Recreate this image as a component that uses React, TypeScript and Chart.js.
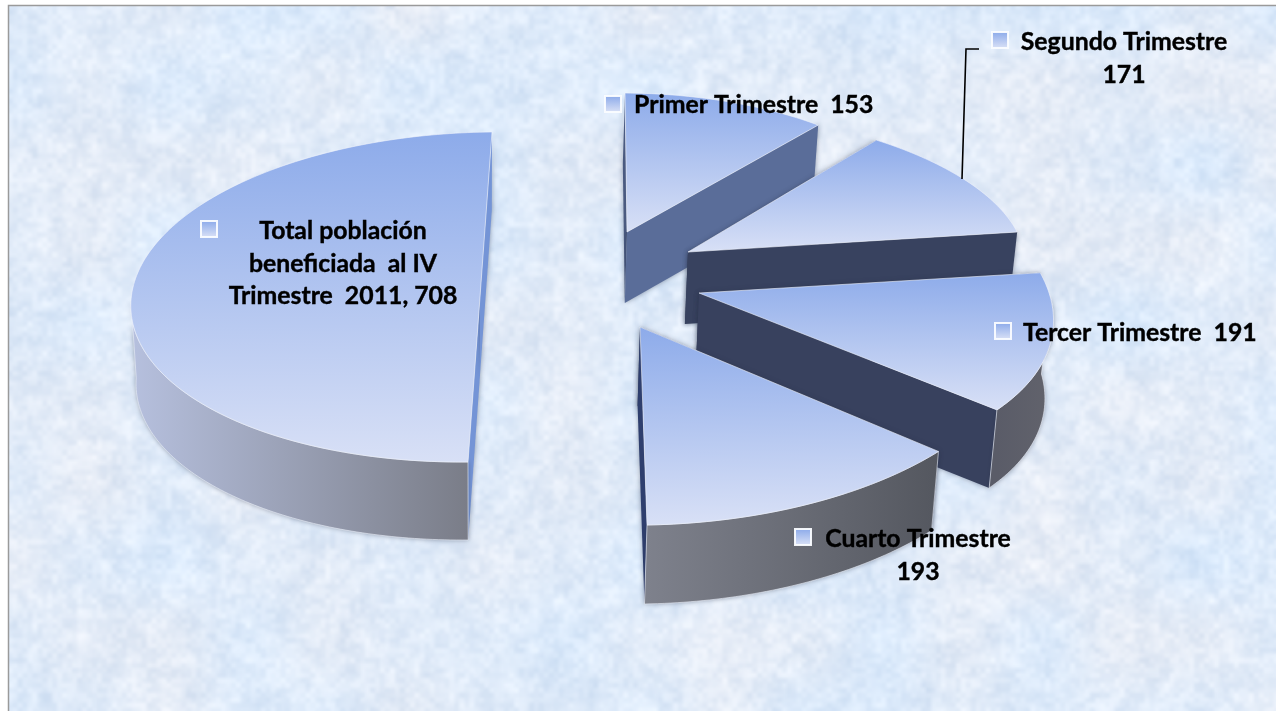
import React, { useEffect, useRef } from "react";
import { Chart, registerables } from "chart.js";

Chart.register(...registerables);

// ---- data ----
const categories = [
  "Primer Trimestre",
  "Segundo Trimestre",
  "Tercer Trimestre",
  "Cuarto Trimestre",
  "Total población beneficiada al IV Trimestre 2011",
];
const values = [153, 171, 191, 193, 708];
const labelLines = [
  ["Primer Trimestre  153"],
  ["Segundo Trimestre", "171"],
  ["Tercer Trimestre  191"],
  ["Cuarto Trimestre", "193"],
  ["Total población", "beneficiada  al IV", "Trimestre  2011, 708"],
];

// ---- presentation: a perspective view of each exploded wedge ----
const W = 1276;
const H = 711;
const FONT = "bold 24.8px Lato, Carlito, sans-serif";
const BOTTOM_SHRINK = 0.015;
const VANISH_X = 480;
const views = [
  { ox: 627, oy: 232, ax: 307, ay: 2, bx: 2, by: 139, depth: 71 },
  { ox: 688, oy: 252, ax: 336, ay: -1, bx: 29, by: 143, depth: 72 },
  { ox: 699, oy: 293, ax: 351, ay: 3, bx: 50, by: 175, depth: 78 },
  { ox: 640, oy: 327, ax: 389, ay: -7, bx: 7, by: 198, depth: 79 },
  { ox: 480, oy: 297, ax: 349, ay: -3, bx: -12, by: 165, depth: 78 },
];
const wallColors = [
  { start: "#4a5a80", end: "#5a6d99", arcA: "#6a6f82", arcB: "#6a6f82" },
  { start: "#38425f", end: "#38425f", arcA: "#5a5c68", arcB: "#5a5c68" },
  { start: "#38425f", end: "#38415e", arcA: "#5a5c68", arcB: "#62636c" },
  { start: "#38425f", end: "#2f3f6e", arcA: "#7e818c", arcB: "#54575f" },
  { start: "#7494d6", end: "#7494d6", arcA: "#b6c0de", arcB: "#7a7d88" },
];
const labelBoxes = [
  { x: 634, y: 113, align: "left", mx: 605, my: 96 },
  { x: 1124, y: 50, align: "center", mx: 992, my: 32 },
  { x: 1023, y: 341, align: "left", mx: 995, my: 323 },
  { x: 918, y: 547, align: "center", mx: 795, my: 529 },
  { x: 343, y: 239, align: "center", mx: 201, my: 221 },
];
const leader = [
  [962, 179],
  [966, 49],
  [979, 49],
];
const TOP_BLUE = "#8dabea";
const BOTTOM_PALE = "#d8e0f6";

// paper-like mottling of the slide background (deterministic value noise)
function hash(ix: number, iy: number): number {
  const s = Math.sin(ix * 127.1 + iy * 311.7) * 43758.5453;
  return s - Math.floor(s);
}
function noise(x: number, y: number): number {
  const ix = Math.floor(x);
  const iy = Math.floor(y);
  let fx = x - ix;
  let fy = y - iy;
  fx = fx * fx * (3 - 2 * fx);
  fy = fy * fy * (3 - 2 * fy);
  const a = hash(ix, iy);
  const b = hash(ix + 1, iy);
  const c = hash(ix, iy + 1);
  const d = hash(ix + 1, iy + 1);
  return a + (b - a) * fx + (c - a) * fy + (a - b - c + d) * fx * fy;
}
function makeTexture(): HTMLCanvasElement {
  const c = document.createElement("canvas");
  const w = Math.ceil(W / 2);
  const h = Math.ceil(H / 2);
  c.width = w;
  c.height = h;
  const g = c.getContext("2d")!;
  const img = g.createImageData(w, h);
  for (let y = 0; y < h; y++) {
    for (let x = 0; x < w; x++) {
      const px = x * 2;
      const py = y * 2;
      const n =
        (noise(px / 30, py / 30) - 0.5) * 0.5 +
        (noise(px / 12 + 40, py / 12) - 0.5) * 0.9 +
        (noise(px / 5, py / 5 + 70) - 0.5) * 0.9;
      const blue = noise(px / 80 + 9, py / 80 + 3) - 0.5;
      const i = (y * w + x) * 4;
      img.data[i] = 224 + n * 17 - blue * 12;
      img.data[i + 1] = 235 + n * 13 - blue * 2;
      img.data[i + 2] = 249 + n * 8 + blue * 6;
      img.data[i + 3] = 255;
    }
  }
  g.putImageData(img, 0, 0);
  return c;
}

const piePlugin = {
  id: "perspectivePie",
  beforeDraw(chart: any) {
    const ctx = chart.ctx;
    ctx.save();
    ctx.imageSmoothingEnabled = true;
    ctx.drawImage(makeTexture(), 9, 6, W - 9, H - 6);
    ctx.strokeStyle = "#9a9a9a";
    ctx.lineWidth = 1.5;
    ctx.beginPath();
    ctx.moveTo(8.5, H);
    ctx.lineTo(8.5, 5.5);
    ctx.lineTo(W, 5.5);
    ctx.stroke();
    ctx.restore();
  },
  beforeDatasetDraw(chart: any, args: any) {
    const ctx = chart.ctx;
    const arcs = args.meta.data;
    // painter's order: the total first, then the wedges from back to front
    [4, 0, 1, 2, 3].forEach((i) => {
      const arc = arcs[i];
      const v = views[i];
      const col = wallColors[i];
      const a0 = arc.startAngle;
      const a1 = arc.endAngle;
      const top = (a: number) => ({
        x: v.ox + Math.cos(a) * v.ax + Math.sin(a) * v.bx,
        y: v.oy + Math.cos(a) * v.ay + Math.sin(a) * v.by,
      });
      const low = (p: { x: number; y: number }) => ({
        x: p.x + (VANISH_X - p.x) * BOTTOM_SHRINK,
        y: p.y + v.depth,
      });
      const apex = { x: v.ox, y: v.oy };
      const poly = (pts: { x: number; y: number }[]) => {
        ctx.beginPath();
        pts.forEach((p, k) => (k ? ctx.lineTo(p.x, p.y) : ctx.moveTo(p.x, p.y)));
        ctx.closePath();
      };
      const sample = (from: number, to: number) => {
        const steps = Math.max(2, Math.ceil(((to - from) * 180) / Math.PI));
        const pts: { x: number; y: number }[] = [];
        for (let k = 0; k <= steps; k++) pts.push(top(from + ((to - from) * k) / steps));
        return pts;
      };
      const rim = sample(a0, a1);

      ctx.save();
      ctx.shadowColor = "rgba(40,48,70,0.45)";
      ctx.shadowBlur = 5;
      ctx.lineJoin = "round";
      // flat cut faces
      const wall = (p: { x: number; y: number }, fill: string) => {
        poly([apex, p, low(p), low(apex)]);
        ctx.fillStyle = fill;
        ctx.fill();
      };
      wall(rim[0], col.start);
      wall(rim[rim.length - 1], col.end);
      // curved outer wall: only the part of the rim that faces the viewer
      const f0 = Math.max(a0, 0);
      const f1 = Math.min(a1, Math.PI);
      if (f1 > f0) {
        const front = sample(f0, f1);
        const xs = front.map((p) => p.x);
        const gw = ctx.createLinearGradient(Math.min(...xs), 0, Math.max(...xs), 0);
        gw.addColorStop(i === 4 ? 1 : 0, i === 4 ? col.arcB : col.arcA);
        gw.addColorStop(i === 4 ? 0 : 1, i === 4 ? col.arcA : col.arcB);
        poly([...front, ...front.map(low).reverse()]);
        ctx.fillStyle = gw;
        ctx.fill();
        ctx.shadowColor = "transparent";
        ctx.strokeStyle = "rgba(235,240,250,0.6)";
        ctx.lineWidth = 1;
        ctx.stroke();
      }
      ctx.restore();

      // top face: the library's own arc, through the wedge's view matrix
      const R = arc.outerRadius;
      const sins = [0, Math.sin(a0), Math.sin(a1)];
      for (let t = -Math.PI * 2.5; t < Math.PI * 4; t += Math.PI) {
        if (t > a0 && t < a1) sins.push(Math.sin(t));
      }
      const yMin = arc.y + R * Math.min(...sins);
      const yMax = arc.y + R * Math.max(...sins);
      ctx.save();
      ctx.transform(v.ax / R, v.ay / R, v.bx / R, v.by / R, v.ox, v.oy);
      ctx.translate(-arc.x, -arc.y);
      const grad = ctx.createLinearGradient(0, yMin, 0, yMax);
      grad.addColorStop(0, TOP_BLUE);
      grad.addColorStop(1, BOTTOM_PALE);
      const saved = arc.options;
      arc.options = { ...saved, backgroundColor: grad, borderWidth: 0 };
      arc.draw(ctx);
      arc.options = saved;
      ctx.restore();

      // light rim
      ctx.save();
      poly([apex, ...rim]);
      ctx.strokeStyle = "rgba(240,244,252,0.6)";
      ctx.lineWidth = 1;
      ctx.stroke();
      ctx.restore();
    });
    return false;
  },
  afterDraw(chart: any) {
    const ctx = chart.ctx;
    ctx.save();
    // leader line of the second wedge
    ctx.strokeStyle = "#000";
    ctx.lineWidth = 1.6;
    ctx.beginPath();
    leader.forEach(([x, y], k) => (k ? ctx.lineTo(x, y) : ctx.moveTo(x, y)));
    ctx.stroke();
    labelLines.forEach((lines, i) => {
      const b = labelBoxes[i];
      const g = ctx.createLinearGradient(0, b.my, 0, b.my + 16);
      g.addColorStop(0, TOP_BLUE);
      g.addColorStop(1, BOTTOM_PALE);
      ctx.fillStyle = g;
      ctx.fillRect(b.mx, b.my, 16, 16);
      ctx.strokeStyle = "rgba(250,252,255,0.95)";
      ctx.lineWidth = 2;
      ctx.strokeRect(b.mx, b.my, 16, 16);
      ctx.fillStyle = "#000";
      ctx.strokeStyle = "#000";
      ctx.lineWidth = 0.4;
      ctx.font = FONT;
      ctx.textBaseline = "alphabetic";
      ctx.textAlign = b.align;
      lines.forEach((t, k) => {
        ctx.fillText(t, b.x, b.y + k * 32.5);
        ctx.strokeText(t, b.x, b.y + k * 32.5);
      });
    });
    ctx.restore();
  },
};

export default function App() {
  const ref = useRef<HTMLCanvasElement>(null);
  useEffect(() => {
    const chart = new Chart(ref.current!, {
      type: "pie",
      plugins: [piePlugin],
      data: {
        labels: categories,
        datasets: [{ data: values, backgroundColor: TOP_BLUE, borderWidth: 0, clip: false }],
      },
      options: {
        animation: false,
        responsive: false,
        devicePixelRatio: 1,
        events: [],
        layout: { padding: 0 },
        plugins: { legend: { display: false }, tooltip: { enabled: false } },
      },
    } as any);
    return () => chart.destroy();
  }, []);
  return (
    <canvas
      ref={ref}
      width={W}
      height={H}
      style={{ position: "absolute", left: 0, top: 0, display: "block", width: W, height: H }}
    />
  );
}
